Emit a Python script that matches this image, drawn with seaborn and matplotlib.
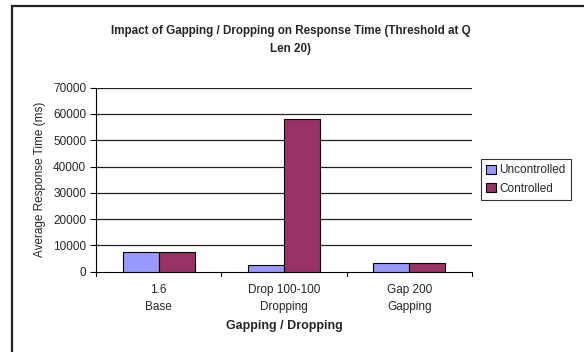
import matplotlib
matplotlib.use("Agg")
import matplotlib.pyplot as plt
import seaborn as sns
import pandas as pd
from matplotlib.patches import Rectangle

categories = ["1.6\nBase", "Drop 100-100\nDropping", "Gap 200\nGapping"]
uncontrolled = [7400, 2500, 3500]
controlled = [7400, 58000, 3500]
series_names = ["Uncontrolled", "Controlled"]
y_ticks = [0, 10000, 20000, 30000, 40000, 50000, 60000, 70000]

df = pd.DataFrame({
    "category": categories * 2,
    "series": [series_names[0]] * 3 + [series_names[1]] * 3,
    "value": uncontrolled + controlled,
})

sns.set_theme(style="white")
plt.rcParams["font.family"] = ["Liberation Sans", "DejaVu Sans"]

fig = plt.figure(figsize=(5.84, 3.52), dpi=100)
ax = fig.add_axes([96 / 584, 1 - 271.7 / 352, 376 / 584, 184 / 352])

# outer chart frame (only top and left edges visible)
fig.patches.append(Rectangle((12 / 584, -0.1), 1.2, (352 - 6) / 352 + 0.1,
                             transform=fig.transFigure, fill=False,
                             edgecolor="#222222", linewidth=1.6))

sns.barplot(data=df, x="category", y="value", hue="series",
            palette=["#9999FF", "#993366"], saturation=1, width=0.575, gap=0,
            edgecolor="black", linewidth=0.8, ax=ax, zorder=3)

ax.set_ylim(0, 70000)
ax.set_xlim(-0.5, 2.5)
ax.set_yticks(y_ticks)
ax.set_yticklabels([str(v) for v in y_ticks], fontsize=8.5)
for y in y_ticks[1:]:
    ax.axhline(y, color="#222222", linewidth=0.9, zorder=1)

ax.set_xticks([0, 1, 2])
ax.set_xticklabels(categories, fontsize=8.5, linespacing=1.5)
ax.tick_params(axis="x", length=0, pad=9)
for b in [-0.5, 0.5, 1.5, 2.5]:
    ax.plot([b, b], [0, -0.025], color="black", linewidth=0.8,
            transform=ax.get_xaxis_transform(), clip_on=False)
ax.tick_params(axis="y", length=4, width=0.8, color="black", direction="out",
               left=True, pad=3)

for s in ["top", "right"]:
    ax.spines[s].set_visible(False)
ax.spines["left"].set_color("black")
ax.spines["left"].set_linewidth(0.8)
ax.spines["bottom"].set_color("black")
ax.spines["bottom"].set_linewidth(0.8)

ax.set_ylabel("Average Response Time (ms)", fontsize=8.5, labelpad=5)
ax.set_xlabel("Gapping / Dropping", fontsize=9, fontweight="bold", labelpad=5)

fig.text(291 / 584, 1 - 40 / 352,
         "Impact of Gapping / Dropping on Response Time (Threshold at Q\nLen 20)",
         ha="center", va="center", fontsize=8.4, fontweight="bold", linespacing=1.65)

leg = ax.legend(loc="center left", bbox_to_anchor=(1.024, 0.5), fontsize=8.5,
                frameon=True, fancybox=False, edgecolor="black",
                handlelength=0.8, handleheight=0.8, handletextpad=0.3,
                borderpad=0.45, labelspacing=0.55, borderaxespad=0)
leg.get_frame().set_linewidth(0.8)

fig.savefig("out.png", dpi=100)
